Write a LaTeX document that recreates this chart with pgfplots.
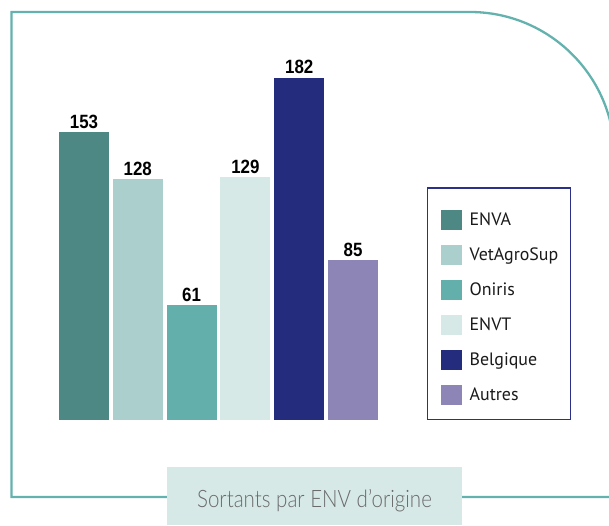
\documentclass[border=0pt]{standalone}
\usepackage{fontspec}
\usepackage{pgfplots}
\pgfplotsset{compat=1.18}
\setmainfont{PT Sans}
\newfontfamily\numfont{Liberation Sans}
\IfFontExistsTF{Lato Light}{\newfontfamily\capfont{Lato Light}}{\newfontfamily\capfont{Lato}}
\definecolor{cENVA}{HTML}{4D8884}
\definecolor{cVet}{HTML}{AACFCD}
\definecolor{cOni}{HTML}{63AFAB}
\definecolor{cENVT}{HTML}{D6E9E7}
\definecolor{cBel}{HTML}{232C7D}
\definecolor{cAut}{HTML}{8D85B6}
\definecolor{framec}{HTML}{64B2AE}
\definecolor{capbg}{HTML}{D6E9E7}
\definecolor{capgray}{HTML}{6A6A6A}
\definecolor{legborder}{HTML}{2B3089}
\definecolor{textc}{HTML}{1A1A1A}
\begin{document}
\begin{tikzpicture}
\useasboundingbox (0,0) rectangle (609pt,525pt);
\draw[framec, line width=2.3pt, line join=miter] (660pt,28pt) -- (11.5pt,28pt) -- (11.5pt,513pt) -- (470pt,513pt) arc[start angle=90, end angle=0, radius=144.5pt] -- ++(0,-400pt);
\fill[capbg] (167pt,0pt) rectangle (462pt,58pt);
\node[font=\capfont\fontsize{24}{24}\selectfont, text=capgray, anchor=base, inner sep=0pt, xscale=0.855] at (314.5pt,18pt) {Sortants par ENV d’origine};
\begin{axis}[
  at={(84pt,105pt)}, anchor=origin,
  x=53.8pt, y=1.88pt,
  xmin=-0.5, xmax=5.5, ymin=0, ymax=200,
  hide axis, clip=false,
  ybar, bar width=50pt,
  nodes near coords={\numfont\bfseries\pgfmathprintnumber[assume math mode=true]{\pgfplotspointmeta}},
  every node near coord/.append style={inner sep=0pt, anchor=south, yshift=3.7pt, xscale=0.88, font=\fontsize{19.2}{19}\selectfont, text=black},
  legend image code/.code={\fill[#1,draw=none] (0pt,-10pt) rectangle (21pt,10pt); \path (0pt,-13.9pt) (0pt,21.1pt);},
  legend style={at={(1.1459,0.6189)}, anchor=north west, draw=legborder, line width=1.3pt,
    inner xsep=13pt, inner ysep=10.9pt, row sep=0pt, column sep=8pt,
    font=\fontsize{17.9}{19}\selectfont, text=textc,
    nodes={inner sep=0pt, text width=88pt, text height=14pt, text depth=2pt},
    cells={anchor=west}},
]
\addplot[fill=cENVA, draw=none, bar shift=0pt] coordinates {(0,153)};
\addlegendentry{ENVA}
\addplot[fill=cVet, draw=none, bar shift=0pt] coordinates {(1,128)};
\addlegendentry{VetAgroSup}
\addplot[fill=cOni, draw=none, bar shift=0pt] coordinates {(2,61)};
\addlegendentry{Oniris}
\addplot[fill=cENVT, draw=none, bar shift=0pt] coordinates {(3,129)};
\addlegendentry{ENVT}
\addplot[fill=cBel, draw=none, bar shift=0pt] coordinates {(4,182)};
\addlegendentry{Belgique}
\addplot[fill=cAut, draw=none, bar shift=0pt] coordinates {(5,85)};
\addlegendentry{Autres}
\end{axis}
\end{tikzpicture}
\end{document}
